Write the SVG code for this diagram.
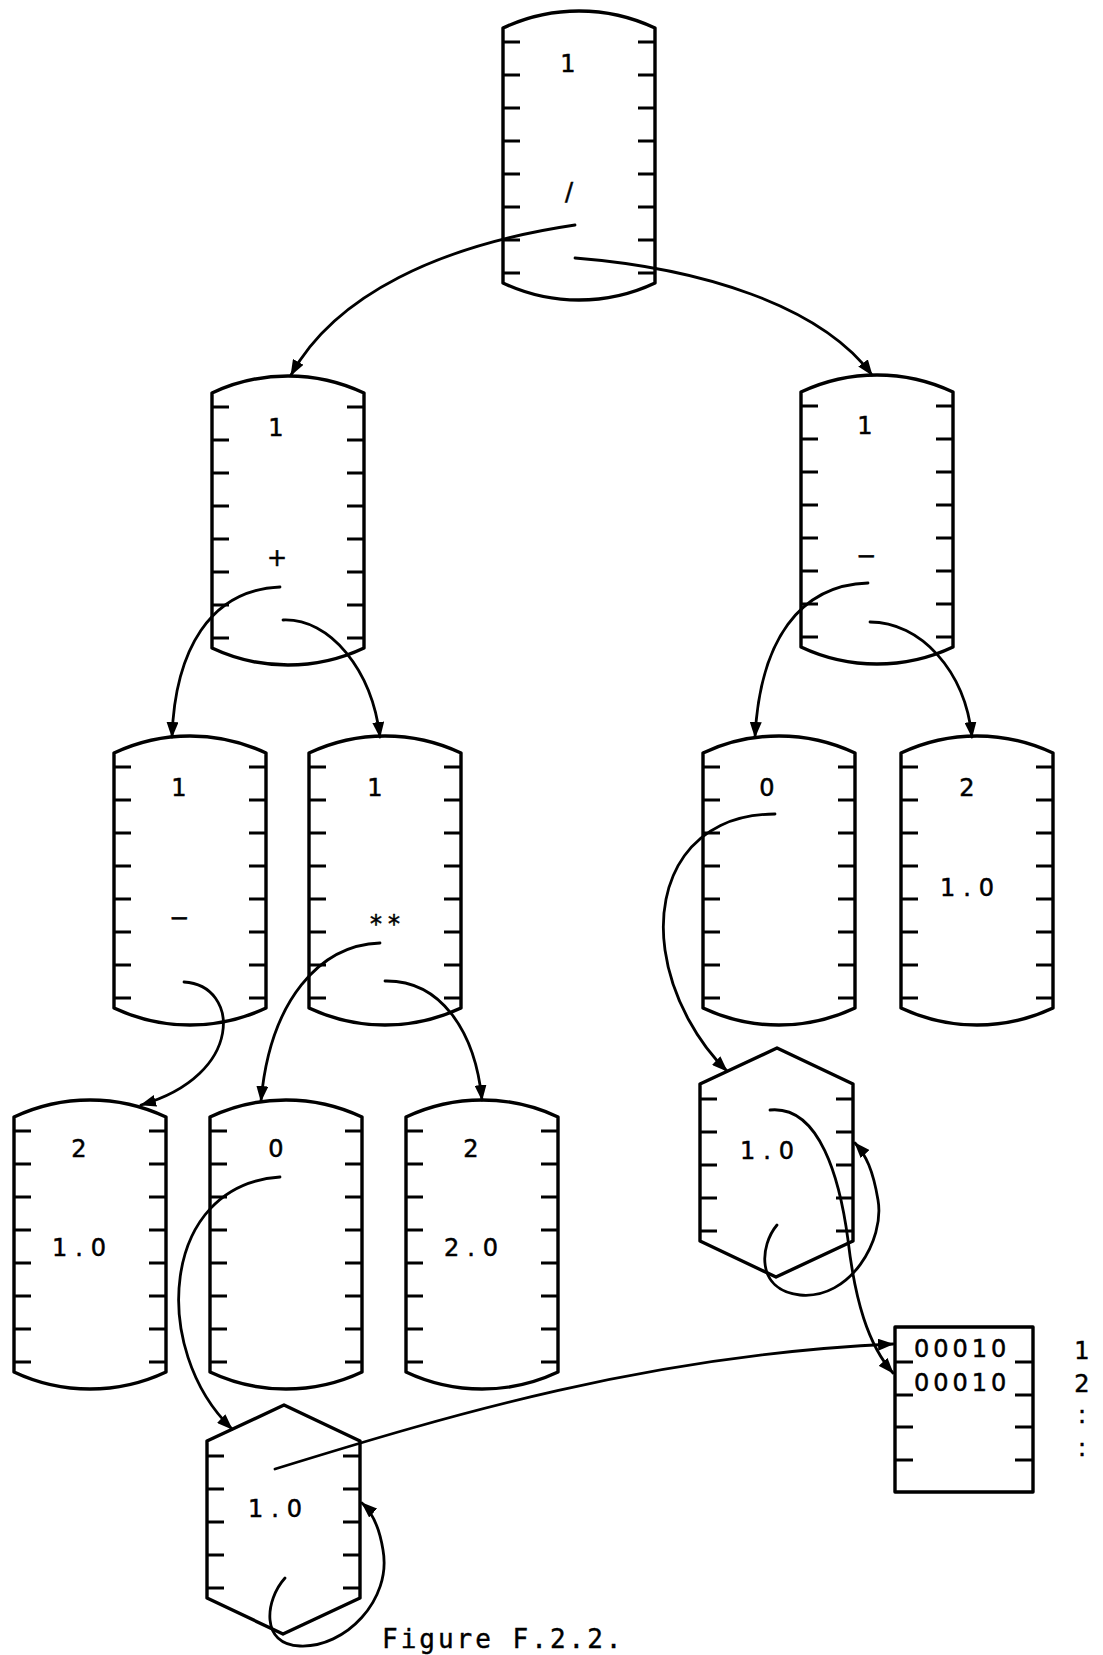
<svg xmlns="http://www.w3.org/2000/svg" width="1103" height="1655" viewBox="0 0 1103 1655">
<style>
.ol{fill:none;stroke:#000;stroke-width:3.4;stroke-linejoin:round}
.tk{fill:none;stroke:#000;stroke-width:3}
.cn{fill:none;stroke:#000;stroke-width:2.8;stroke-linecap:round;marker-end:url(#ah)}
.lb,.ld,.tb{font-family:"DejaVu Sans","Liberation Sans",sans-serif;font-size:24px;fill:#000;stroke:#000;stroke-width:0.5}
.lb{text-anchor:middle}
.ld{letter-spacing:8px;text-anchor:middle}
.tb{letter-spacing:4px}
.cap{font-family:"DejaVu Sans Mono","Liberation Mono",monospace;font-size:26px;letter-spacing:3px;fill:#000;stroke:#000;stroke-width:0.4}
</style>
<defs>
<marker id="ah" viewBox="0 0 16 12" refX="15" refY="6" markerWidth="16" markerHeight="12" markerUnits="userSpaceOnUse" orient="auto">
<path d="M0,0 L16,6 L0,12 Z" fill="#000"/>
</marker>
<g id="cyl">
<path class="ol" d="M0,0 A178,178 0 0 1 152,0 L152,255 A178,178 0 0 1 0,255 Z"/>
<path class="tk" d="M0,14h17M0,47h17M0,80h17M0,113h17M0,146h17M0,179h17M0,212h17M0,245h17M135,14h17M135,47h17M135,80h17M135,113h17M135,146h17M135,179h17M135,212h17M135,245h17"/>
</g>
<g id="hex">
<path class="ol" d="M0,0 L77,-36 L153,0 L153,157 L76,193 L0,157 Z"/>
<path class="tk" d="M0,15h17M0,48h17M0,81h17M0,114h17M0,147h17M136,15h17M136,48h17M136,81h17M136,114h17M136,147h17"/>
</g>
</defs>
<rect width="1103" height="1655" fill="#fff"/>

<g id="n-root">
<use href="#cyl" x="503" y="28"/>
<text class="lb" x="568" y="72">1</text>
<text class="lb" x="569" y="200">/</text>
</g>
<g id="n-plus">
<use href="#cyl" x="212" y="393"/>
<text class="lb" x="276" y="436">1</text>
<text class="lb" x="277" y="566">+</text>
</g>
<g id="n-minus">
<use href="#cyl" x="801" y="392"/>
<text class="lb" x="865" y="434">1</text>
<text class="lb" x="866" y="564">−</text>
</g>
<g id="n-neg">
<use href="#cyl" x="114" y="753"/>
<text class="lb" x="179" y="796">1</text>
<text class="lb" x="179" y="926">−</text>
</g>
<g id="n-pow">
<use href="#cyl" x="309" y="753"/>
<text class="lb" x="375" y="796">1</text>
<text class="ld" x="388" y="932" style="letter-spacing:6px">**</text>
</g>
<g id="n-var1">
<use href="#cyl" x="703" y="753"/>
<text class="lb" x="767" y="796">0</text>
</g>
<g id="n-const1">
<use href="#cyl" x="901" y="753"/>
<text class="lb" x="967" y="796">2</text>
<text class="ld" x="971" y="896">1.0</text>
</g>
<g id="n-const2">
<use href="#cyl" x="14" y="1117"/>
<text class="lb" x="79" y="1157">2</text>
<text class="ld" x="83" y="1256">1.0</text>
</g>
<g id="n-var2">
<use href="#cyl" x="210" y="1117"/>
<text class="lb" x="276" y="1157">0</text>
</g>
<g id="n-const3">
<use href="#cyl" x="406" y="1117"/>
<text class="lb" x="471" y="1157">2</text>
<text class="ld" x="475" y="1256">2.0</text>
</g>
<g id="n-hexR">
<use href="#hex" x="700" y="1084"/>
<text class="ld" x="771" y="1159">1.0</text>
</g>
<g id="n-hexL">
<use href="#hex" x="207" y="1441"/>
<text class="ld" x="279" y="1517">1.0</text>
</g>
<g id="n-table">
<rect class="ol" x="895" y="1327" width="138" height="165"/>
<path class="tk" d="M895,1362h18M895,1395h18M895,1427h18M895,1460h18M1015,1362h18M1015,1395h18M1015,1427h18M1015,1460h18"/>
<text class="tb" x="914" y="1357">00010</text>
<text class="tb" x="914" y="1391">00010</text>
<text class="lb" x="1082" y="1359">1</text>
<text class="lb" x="1082" y="1392">2</text>
<text class="lb" x="1082" y="1423">:</text>
<text class="lb" x="1082" y="1456">:</text>
</g>

<g id="connectors">
<path class="cn" d="M575,225 C440,245 335,295 291,375"/>
<path class="cn" d="M575,258 C700,268 820,305 872,375"/>
<path class="cn" d="M280,587 C210,590 175,650 172,737"/>
<path class="cn" d="M283,620 C330,618 372,670 380,737"/>
<path class="cn" d="M868,583 C800,585 760,640 755,737"/>
<path class="cn" d="M870,622 C920,622 965,670 972,737"/>
<path class="cn" d="M184,982 C240,985 245,1075 141,1105"/>
<path class="cn" d="M380,943 C320,945 270,1000 261,1101"/>
<path class="cn" d="M385,981 C440,980 475,1030 482,1100"/>
<path class="cn" d="M775,814 C690,814 655,880 665,950 C672,1000 700,1045 727,1071"/>
<path class="cn" d="M770,1110 C820,1105 840,1180 848,1240 C855,1300 868,1345 893,1373"/>
<path class="cn" d="M777,1225 C760,1245 755,1290 800,1295 C850,1300 885,1240 878,1200 C873,1170 866,1155 855,1143"/>
<path class="cn" d="M280,1177 C160,1185 150,1350 232,1429"/>
<path class="cn" d="M275,1469 C450,1415 650,1355 893,1344"/>
<path class="cn" d="M285,1578 C265,1600 260,1645 300,1646 C345,1648 392,1600 383,1550 C379,1525 372,1512 362,1503"/>
</g>

<text class="cap" x="382" y="1648">Figure F.2.2.</text>
</svg>
